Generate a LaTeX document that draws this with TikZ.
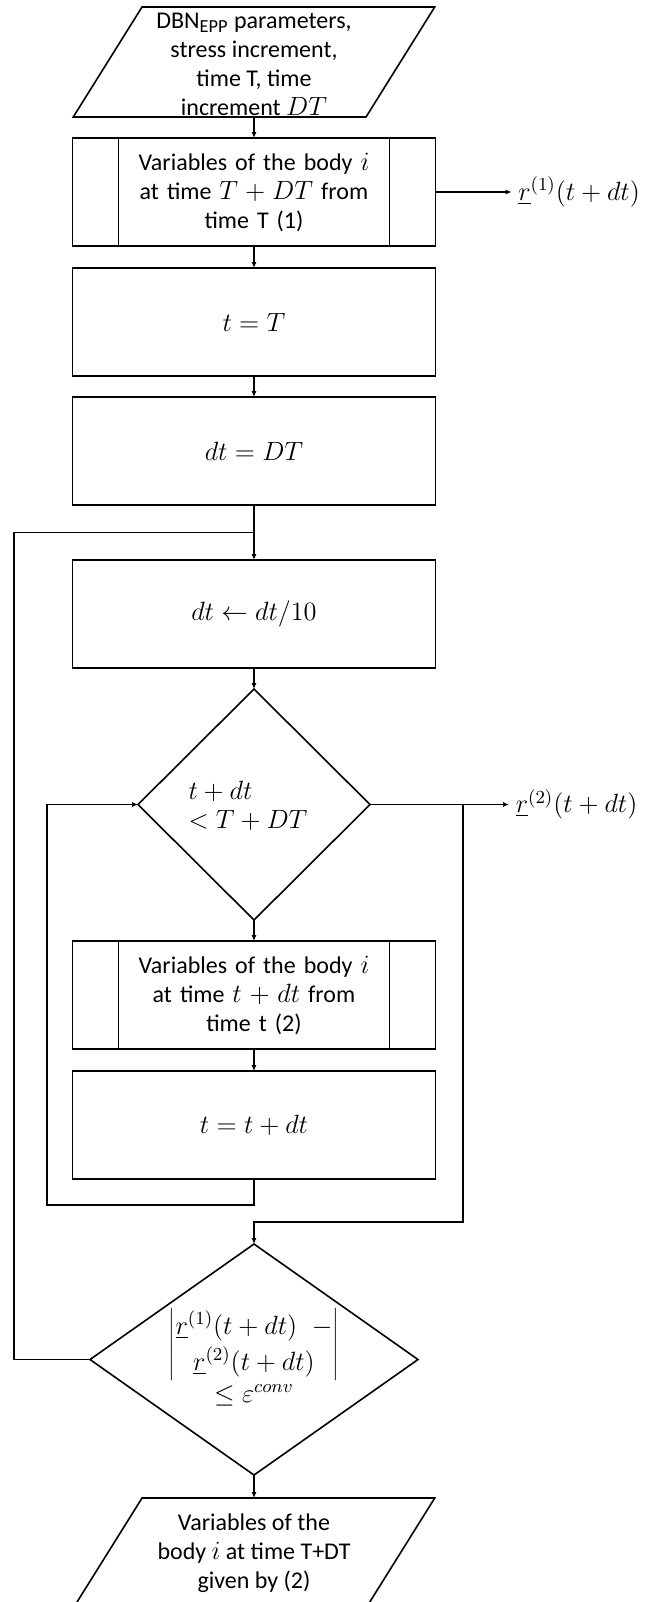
\RequirePackage{fix-cm}
\documentclass[tikz,border=0pt]{standalone}
\usepackage{fontspec}
\setmainfont{Carlito}
\DeclareMathSizes{12}{13.2}{9.2}{7}
\usetikzlibrary{positioning,arrows.meta,calc,shapes.geometric}

\begin{document}
\begin{tikzpicture}[
  x=0.5pt, y=-0.5pt,
  font=\fontsize{12}{14.5}\selectfont,
  line width=0.8pt,
  box/.style={draw, minimum width=181.5pt, minimum height=54pt, align=center, inner sep=2pt, outer sep=0pt},
  subproc/.style={box, text width=132pt, path picture={
      \draw ([xshift=23pt]path picture bounding box.north west) -- ([xshift=23pt]path picture bounding box.south west);
      \draw ([xshift=-23pt]path picture bounding box.north east) -- ([xshift=-23pt]path picture bounding box.south east);}},
  io/.style={draw, trapezium, trapezium left angle=58, trapezium right angle=122,
    inner xsep=56pt, inner ysep=27.5pt, outer sep=0pt},
  dec/.style={draw, diamond, inner sep=0pt, outer sep=0pt, minimum height=115.5pt},
  txt/.style={align=center, inner sep=0pt},
  outlbl/.style={anchor=west, inner sep=3pt},
  arr/.style={-{Latex[length=3pt, width=2.6pt]}},
  node distance=10.5pt]
  \useasboundingbox (0,0) rectangle (654,1602);
  % main column
  \node[io] (inp) at (254,62) {};
  \node[txt] (inptxt) at ([yshift=-1.25pt]inp.center) {DBN\textsubscript{EPP} parameters,\\stress increment,\\time T, time\\increment $DT$};
  \node[subproc, below=of inp] (vart) {Variables of the body $i$\\at time $T+DT$ from\\time T (1)};
  \node[box, below=11pt of vart] (init) {$t=T$};
  \node[box, below=of init] (step0) {$dt=DT$};
  \node[box, below=27.5pt of step0] (refine) {$dt\leftarrow dt/10$};
  \node[dec, minimum width=116pt, below=of refine] (chk) {};
  \node[txt, align=left] (chktxt) at ([xshift=-3pt,yshift=-0.75pt]chk.center) {$t+dt$\\$<T+DT$};
  \node[subproc, below=of chk] (varsub) {Variables of the body $i$\\at time $t+dt$ from\\time t (2)};
  \node[box, below=11pt of varsub] (adv) {$t=t+dt$};
  \node[dec, minimum width=164pt, below=32.5pt of adv] (conv) {};
  \node[txt] (convtxt) at ([yshift=1pt]conv.center) {$\left|\begin{array}{@{}c@{}}\underline{r}^{(1)}(t+dt)\;\; -\\[2pt] \underline{r}^{(2)}(t+dt)\end{array}\right|$\\[1pt]$\leq\varepsilon^{conv}$};
  \node[io, below=11.5pt of conv] (res) {};
  \node[txt] (restxt) at (res.center) {Variables of the\\body $i$ at time T+DT\\given by (2)};
  % outputs
  \node[outlbl, right=38pt of vart] (out1) {$\underline{r}^{(1)}(t+dt)$};
  \node[outlbl, right=69.5pt of chk] (out2) {$\underline{r}^{(2)}(t+dt)$};
  % helper points for the loops
  \coordinate (jn) at ($(step0.south)!0.5!(refine.north)$);
  \coordinate (outer) at (14,0);
  \coordinate (inner) at (47,0);
  \coordinate (branch) at (463,0);
  % connectors
  \draw[arr] (inp.south) -- (vart.north);
  \draw[arr] (vart) -- (init);
  \draw[arr] (init) -- (step0);
  \draw[arr] (step0) -- (refine);
  \draw[arr] (refine) -- (chk);
  \draw[arr] (chk) -- (varsub);
  \draw[arr] (varsub) -- (adv);
  \draw[arr] (conv.south) -- (res.north);
  \draw[arr] (vart.east) -- (out1.west);
  \draw[arr] (chk.east) -- (out2.west);
  \draw[arr] (adv.south) -- ++(0,-13pt) -| (inner |- chk.west) -- (chk.west);
  \draw[arr] (branch |- chk.east) |- ([yshift=11pt]conv.north) -- (conv.north);
  \draw (conv.west) -| (outer |- jn) -- (jn);
\end{tikzpicture}
\end{document}
